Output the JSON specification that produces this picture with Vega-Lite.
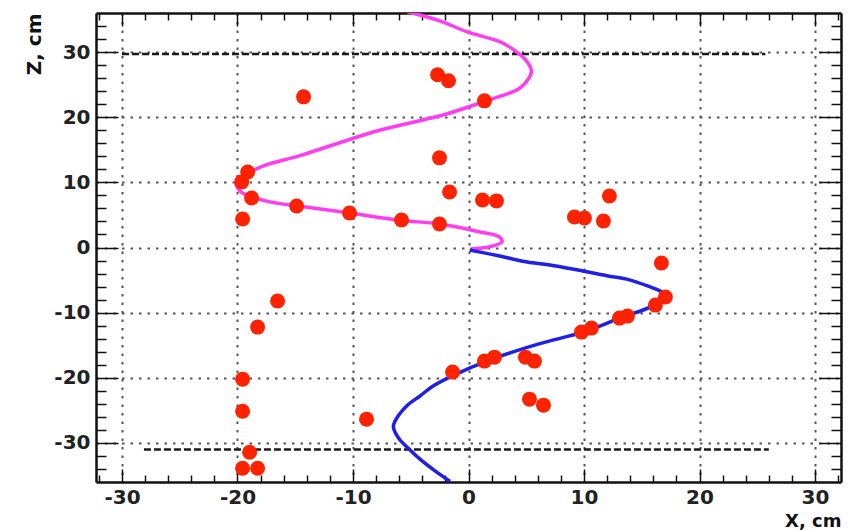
{
  "$schema": "https://vega.github.io/schema/vega-lite/v6.json",
  "width": 745,
  "height": 469,
  "autosize": {"type": "none"},
  "padding": {"left": 96, "top": 13, "right": 15, "bottom": 48},
  "background": "white",
  "config": {"view": {"stroke": null}},
  "datasets": {
    "guides": [
      {"x": -30, "x2": 25.7, "z": 29.7},
      {"x": -28.1, "x2": 26, "z": -31}
    ],
    "magenta": [
      {"i": 1, "x": -5.3, "z": 36.2},
      {"i": 2, "x": -2.5, "z": 34.8},
      {"i": 3, "x": -0.1, "z": 33.1},
      {"i": 4, "x": 2.7, "z": 31.6},
      {"i": 5, "x": 3.8, "z": 30.5},
      {"i": 6, "x": 5.0, "z": 28.7},
      {"i": 7, "x": 5.45, "z": 27.1},
      {"i": 8, "x": 5.2, "z": 25.9},
      {"i": 9, "x": 4.4, "z": 24.4},
      {"i": 10, "x": 2.9, "z": 23.3},
      {"i": 11, "x": 1.2, "z": 22.3},
      {"i": 12, "x": -1.9, "z": 20.5},
      {"i": 13, "x": -7.7, "z": 18.0},
      {"i": 14, "x": -10.1, "z": 16.7},
      {"i": 15, "x": -14.6, "z": 14.1},
      {"i": 16, "x": -17.8, "z": 12.5},
      {"i": 17, "x": -19.1, "z": 11.4},
      {"i": 18, "x": -20.1, "z": 10.1},
      {"i": 19, "x": -19.8, "z": 8.7},
      {"i": 20, "x": -18.95, "z": 7.9},
      {"i": 21, "x": -17.2, "z": 7.0},
      {"i": 22, "x": -14.9, "z": 6.4},
      {"i": 23, "x": -10.3, "z": 5.3},
      {"i": 24, "x": -6.0, "z": 4.2},
      {"i": 25, "x": -2.5, "z": 3.6},
      {"i": 26, "x": 0.7, "z": 2.5},
      {"i": 27, "x": 2.7, "z": 1.6},
      {"i": 28, "x": 2.9, "z": 0.85},
      {"i": 29, "x": 1.8, "z": 0.1},
      {"i": 30, "x": 0.3, "z": -0.2}
    ],
    "blue": [
      {"i": 1, "x": 0.1, "z": -0.4},
      {"i": 2, "x": 2.7, "z": -1.3},
      {"i": 3, "x": 4.7, "z": -2.1},
      {"i": 4, "x": 7.4, "z": -2.8},
      {"i": 5, "x": 9.9, "z": -3.6},
      {"i": 6, "x": 12.2, "z": -4.4},
      {"i": 7, "x": 13.7, "z": -4.85},
      {"i": 8, "x": 15.5, "z": -5.9},
      {"i": 9, "x": 16.8, "z": -6.9},
      {"i": 10, "x": 17.0, "z": -7.5},
      {"i": 11, "x": 15.9, "z": -9.0},
      {"i": 12, "x": 13.3, "z": -10.7},
      {"i": 13, "x": 9.9, "z": -13.0},
      {"i": 14, "x": 6.1, "z": -14.8},
      {"i": 15, "x": 2.1, "z": -17.1},
      {"i": 16, "x": -1.4, "z": -19.7},
      {"i": 17, "x": -3.1, "z": -21.3},
      {"i": 18, "x": -4.2, "z": -22.8},
      {"i": 19, "x": -5.4, "z": -24.4},
      {"i": 20, "x": -6.4, "z": -26.8},
      {"i": 21, "x": -6.5, "z": -27.6},
      {"i": 22, "x": -6.0, "z": -29.4},
      {"i": 23, "x": -5.1, "z": -31.0},
      {"i": 24, "x": -4.2, "z": -32.5},
      {"i": 25, "x": -2.9, "z": -34.3},
      {"i": 26, "x": -1.6, "z": -35.9}
    ],
    "hits": [
      {"x": -14.28, "z": 23.13},
      {"x": -2.68, "z": 26.51},
      {"x": -1.73, "z": 25.59},
      {"x": 1.38, "z": 22.51},
      {"x": -2.51, "z": 13.76},
      {"x": -1.64, "z": 8.53},
      {"x": 1.21, "z": 7.3},
      {"x": 2.42, "z": 7.15},
      {"x": 9.17, "z": 4.69},
      {"x": 10.04, "z": 4.53},
      {"x": 11.68, "z": 4.07},
      {"x": 12.2, "z": 7.91},
      {"x": 16.7, "z": -2.38},
      {"x": 17.05, "z": -7.61},
      {"x": 16.18, "z": -8.84},
      {"x": 13.76, "z": -10.53},
      {"x": 13.07, "z": -10.84},
      {"x": 10.64, "z": -12.37},
      {"x": 9.78, "z": -12.99},
      {"x": 2.25, "z": -16.83},
      {"x": 1.38, "z": -17.44},
      {"x": 4.93, "z": -16.83},
      {"x": 5.71, "z": -17.44},
      {"x": -1.38, "z": -19.13},
      {"x": 5.28, "z": -23.28},
      {"x": 6.49, "z": -24.2},
      {"x": -8.83, "z": -26.35},
      {"x": -16.53, "z": -8.22},
      {"x": -18.26, "z": -12.22},
      {"x": -19.56, "z": -20.21},
      {"x": -19.56, "z": -25.13},
      {"x": -18.95, "z": -31.43},
      {"x": -19.56, "z": -33.89},
      {"x": -18.26, "z": -33.89},
      {"x": -19.12, "z": 11.6},
      {"x": -19.64, "z": 10.07},
      {"x": -18.78, "z": 7.61},
      {"x": -19.56, "z": 4.38},
      {"x": -14.88, "z": 6.38},
      {"x": -10.3, "z": 5.3},
      {"x": -5.8, "z": 4.23},
      {"x": -2.51, "z": 3.61}
    ]
  },
  "layer": [
    {
      "encoding": {
        "x": {
          "field": "x",
          "type": "quantitative",
          "scale": {"domain": [-32.25, 32.25], "nice": false, "zero": false},
          "axis": {
            "orient": "bottom",
            "values": [-32,-30,-28,-26,-24,-22,-20,-18,-16,-14,-12,-10,-8,-6,-4,-2,0,2,4,6,8,10,12,14,16,18,20,22,24,26,28,30,32],
            "title": "X, cm",
            "titleX": 745,
            "titleY": 44,
            "titleAlign": "right",
            "titleBaseline": "alphabetic",
            "titleFont": "DejaVu Sans",
            "titleFontSize": 18,
            "titleFontWeight": "bold",
            "titleColor": "#111",
            "labelExpr": "datum.value % 10 === 0 ? '' + datum.value : ''",
            "labelFont": "DejaVu Sans",
            "labelFontSize": 20,
            "labelFontWeight": "bold",
            "labelColor": "#222",
            "labelPadding": 18,
            "labelBaseline": "top",
            "labelFlush": false,
            "labelOverlap": false,
            "tickSize": {"condition": {"test": "datum.value % 10 === 0", "value": -13}, "value": -7},
            "tickColor": "#111",
            "tickWidth": 1.5,
            "domainColor": "#111",
            "domainWidth": 2.5,
            "grid": true,
            "gridOpacity": {"condition": {"test": "datum.value % 10 === 0", "value": 1}, "value": 0},
            "gridColor": "#555",
            "gridDash": [2.5, 6],
            "gridWidth": 2
          }
        },
        "y": {
          "field": "z",
          "type": "quantitative",
          "scale": {"domain": [-36, 36], "nice": false, "zero": false},
          "axis": {
            "orient": "left",
            "values": [-34,-32,-30,-28,-26,-24,-22,-20,-18,-16,-14,-12,-10,-8,-6,-4,-2,0,2,4,6,8,10,12,14,16,18,20,22,24,26,28,30,32,34],
            "title": "Z, cm",
            "titleX": -62,
            "titleY": 0,
            "titleAngle": -90,
            "titleAlign": "right",
            "titleBaseline": "middle",
            "titleFont": "DejaVu Sans",
            "titleFontSize": 20,
            "titleFontWeight": "bold",
            "titleColor": "#111",
            "labelExpr": "datum.value % 10 === 0 ? '' + datum.value : ''",
            "labelFont": "DejaVu Sans",
            "labelFontSize": 20,
            "labelFontWeight": "bold",
            "labelColor": "#222",
            "labelPadding": 28,
            "labelFlush": false,
            "labelOverlap": false,
            "tickSize": {"condition": {"test": "datum.value % 10 === 0", "value": -22}, "value": -10},
            "tickColor": "#111",
            "tickWidth": 1.5,
            "domainColor": "#111",
            "domainWidth": 2.5,
            "grid": true,
            "gridOpacity": {"condition": {"test": "datum.value % 10 === 0", "value": 1}, "value": 0},
            "gridColor": "#555",
            "gridDash": [2.5, 6],
            "gridWidth": 2
          }
        }
      },
      "layer": [
        {
          "data": {"name": "guides"},
          "mark": {"type": "rule", "color": "#1a1a1a", "strokeWidth": 2.5, "strokeDash": [7, 3]},
          "encoding": {"x2": {"field": "x2"}}
        },
        {
          "data": {"name": "magenta"},
          "mark": {"type": "line", "color": "#ff3cf0", "strokeWidth": 3.5, "clip": true, "interpolate": "catmull-rom"},
          "encoding": {"order": {"field": "i", "type": "quantitative"}}
        },
        {
          "data": {"name": "blue"},
          "mark": {"type": "line", "color": "#1f1fe8", "strokeWidth": 3.5, "clip": true, "interpolate": "catmull-rom"},
          "encoding": {"order": {"field": "i", "type": "quantitative"}}
        }
      ]
    },
    {
      "data": {"name": "hits"},
      "mark": {"type": "circle", "color": "#ff2200", "opacity": 1, "size": 225},
      "encoding": {
        "x": {
          "field": "x",
          "type": "quantitative",
          "scale": {"domain": [-32.25, 32.25], "nice": false, "zero": false},
          "axis": {
            "orient": "top",
            "values": [-32,-30,-28,-26,-24,-22,-20,-18,-16,-14,-12,-10,-8,-6,-4,-2,0,2,4,6,8,10,12,14,16,18,20,22,24,26,28,30,32],
            "title": null,
            "labels": false,
            "grid": false,
            "tickSize": {"condition": {"test": "datum.value % 10 === 0", "value": -13}, "value": -7},
            "tickColor": "#111",
            "tickWidth": 1.5,
            "domainColor": "#111",
            "domainWidth": 2.5
          }
        },
        "y": {
          "field": "z",
          "type": "quantitative",
          "scale": {"domain": [-36, 36], "nice": false, "zero": false},
          "axis": {
            "orient": "right",
            "values": [-34,-32,-30,-28,-26,-24,-22,-20,-18,-16,-14,-12,-10,-8,-6,-4,-2,0,2,4,6,8,10,12,14,16,18,20,22,24,26,28,30,32,34],
            "title": null,
            "labels": false,
            "grid": false,
            "tickSize": {"condition": {"test": "datum.value % 10 === 0", "value": -22}, "value": -10},
            "tickColor": "#111",
            "tickWidth": 1.5,
            "domainColor": "#111",
            "domainWidth": 2.5
          }
        }
      }
    }
  ],
  "resolve": {"axis": {"x": "independent", "y": "independent"}}
}
